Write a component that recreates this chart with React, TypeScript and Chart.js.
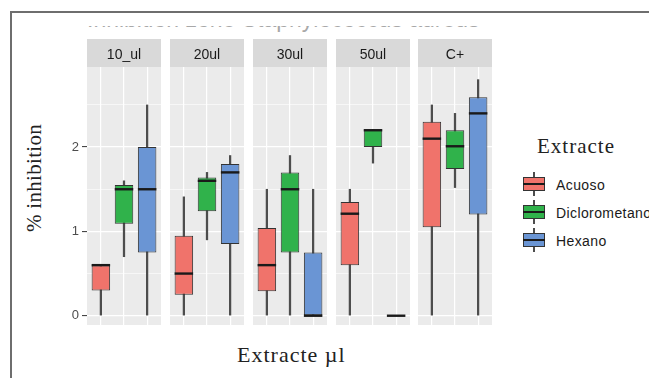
import React, { useEffect, useRef } from "react";
import { Chart, registerables } from "chart.js";

Chart.register(...registerables);

// ---------------- data ----------------
const facets = ["10_ul", "20ul", "30ul", "50ul", "C+"];
const extractes = ["Acuoso", "Diclorometano", "Hexano"];
const extractePositions = [1, 2, 3];
const colors = ["#f0736b", "#30b24b", "#6a95d4"];

// each row: [min, q1, median, q3, max] for facets 10_ul, 20ul, 30ul, 50ul, C+
const acuoso = [
  [0, 0.3, 0.6, 0.6, 0.6],
  [0, 0.25, 0.5, 0.95, 1.41],
  [0, 0.29, 0.6, 1.04, 1.5],
  [0, 0.6, 1.21, 1.35, 1.5],
  [0, 1.05, 2.1, 2.3, 2.5],
];
const diclorometano = [
  [0.7, 1.09, 1.5, 1.55, 1.6],
  [0.9, 1.24, 1.6, 1.64, 1.7],
  [0, 0.75, 1.5, 1.7, 1.9],
  [1.81, 2.0, 2.2, 2.21, 2.21],
  [1.52, 1.74, 2.01, 2.2, 2.4],
];
const hexano = [
  [0, 0.75, 1.5, 2.0, 2.5],
  [0, 0.85, 1.7, 1.8, 1.9],
  [0, 0, 0, 0.75, 1.5],
  [0, 0, 0, 0, 0],
  [0, 1.2, 2.4, 2.59, 2.8],
];

const yTickValues = [0, 1, 2];
const yTickLabels = ["0", "1", "2"];
const yGridValues = [0, 0.5, 1, 1.5, 2, 2.5];
const yMin = -0.11;
const yMax = 2.95;
const xMin = 0.4;
const xMax = 3.6;

// ---------------- layout ----------------
const PANEL_LEFTS = [87, 170, 253, 336, 418];
const PANEL_W = 74;
const STRIP_TOP = 39;
const STRIP_H = 28;
const PANEL_BOTTOM = 325;
const Y_AXIS_W = 30;
const SANS = '"Liberation Sans", Arial, sans-serif';
const SERIF = '"Liberation Serif", "Times New Roman", serif';

const series = [acuoso, diclorometano, hexano];

function FacetChart({ fi }: { fi: number }) {
  const ref = useRef<HTMLCanvasElement>(null);
  const isFirst = fi === 0;
  const axisW = isFirst ? Y_AXIS_W : 0;
  const width = PANEL_W + axisW;
  const height = PANEL_BOTTOM - STRIP_TOP;

  useEffect(() => {
    const canvas = ref.current;
    if (!canvas) return;

    const boxDatasets: any[] = extractes.map((name, k) => ({
      label: name,
      data: [{ x: extractePositions[k], y: [series[k][fi][1], series[k][fi][3]] }],
      median: series[k][fi][2],
      backgroundColor: colors[k],
      borderColor: "#333333",
      borderWidth: 1,
      borderSkipped: false,
      barPercentage: 0.8,
      categoryPercentage: 1,
      grouped: false,
      order: 1,
    }));
    const whiskerDatasets: any[] = extractes.map((name, k) => ({
      label: name + " whisker",
      data: [{ x: extractePositions[k], y: [series[k][fi][0], series[k][fi][4]] }],
      backgroundColor: "#4d4d4d",
      borderWidth: 0,
      barThickness: 1.6,
      grouped: false,
      order: 2,
    }));

    const panelPlugin = {
      id: "panelBg",
      beforeDraw(chart: any) {
        const { ctx, chartArea } = chart;
        const { left, right, top, bottom } = chartArea;
        ctx.save();
        ctx.fillStyle = "#ebebeb";
        ctx.fillRect(left, top, right - left, bottom - top);
        ctx.fillStyle = "#d9d9d9";
        ctx.fillRect(left, top - STRIP_H, right - left, STRIP_H);
        ctx.fillStyle = "#1a1a1a";
        ctx.font = "14px " + SANS;
        ctx.textAlign = "center";
        ctx.textBaseline = "middle";
        ctx.fillText(facets[fi], (left + right) / 2, top - STRIP_H / 2 + 2);
        ctx.restore();
      },
    };

    const medianPlugin = {
      id: "medians",
      afterDatasetsDraw(chart: any) {
        const ctx = chart.ctx;
        const yScale = chart.scales.y;
        chart.data.datasets.forEach((ds: any, i: number) => {
          if (ds.median === undefined) return;
          const el: any = chart.getDatasetMeta(i).data[0];
          if (!el) return;
          const py = yScale.getPixelForValue(ds.median);
          ctx.save();
          ctx.strokeStyle = "#1a1a1a";
          ctx.lineWidth = 2.4;
          ctx.beginPath();
          ctx.moveTo(el.x - el.width / 2, py);
          ctx.lineTo(el.x + el.width / 2, py);
          ctx.stroke();
          ctx.restore();
        });
      },
    };

    const chart = new Chart(canvas, {
      type: "bar",
      data: { datasets: [...boxDatasets, ...whiskerDatasets] },
      options: {
        animation: false,
        responsive: false,
        devicePixelRatio: 1,
        layout: { padding: { top: STRIP_H, left: 0, right: 0, bottom: 0 } },
        plugins: {
          legend: { display: false },
          tooltip: { enabled: false },
          title: { display: false },
        },
        scales: {
          x: {
            type: "linear",
            min: xMin,
            max: xMax,
            offset: false,
            afterBuildTicks: (s: any) => {
              s.ticks = extractePositions.map((v) => ({ value: v }));
            },
            afterFit: (s: any) => {
              s.height = 0;
              s.paddingLeft = 0;
              s.paddingRight = 0;
            },
            ticks: { display: false },
            grid: { color: "#ffffff", lineWidth: 1.2, drawTicks: false, offset: false },
            border: { display: false },
          },
          y: {
            type: "linear",
            min: yMin,
            max: yMax,
            afterBuildTicks: (s: any) => {
              s.ticks = yGridValues.map((v) => ({ value: v }));
            },
            afterFit: (s: any) => {
              s.width = axisW;
              s.paddingTop = 0;
              s.paddingBottom = 0;
            },
            ticks: {
              display: isFirst,
              padding: 3,
              color: "#4d4d4d",
              font: { family: SANS, size: 13 },
              callback: (v: any) => {
                const idx = yTickValues.indexOf(Number(v));
                return idx >= 0 ? yTickLabels[idx] : "";
              },
            },
            grid: {
              color: "#ffffff",
              lineWidth: (c: any) => (c.tick && Number.isInteger(c.tick.value) ? 1.2 : 0.6),
              drawTicks: isFirst,
              tickLength: 5,
              tickWidth: 1,
              tickColor: (c: any) =>
                c.tick && Number.isInteger(c.tick.value) ? "#333333" : "rgba(0,0,0,0)",
            },
            border: { display: false },
          },
        },
      } as any,
      plugins: [panelPlugin, medianPlugin],
    });
    return () => chart.destroy();
  }, [fi]);

  return (
    <canvas
      ref={ref}
      width={width}
      height={height}
      style={{
        position: "absolute",
        left: PANEL_LEFTS[fi] - axisW,
        top: STRIP_TOP,
        width,
        height,
        display: "block",
      }}
    />
  );
}

const LEGEND_KEY_CENTERS = [184, 212, 239.5];

export default function App() {
  return (
    <div
      style={{
        position: "absolute",
        left: 0,
        top: 0,
        width: 649,
        height: 378,
        background: "#ffffff",
        overflow: "hidden",
      }}
    >
      {/* frame */}
      <div style={{ position: "absolute", left: 10, top: 11, width: 2, height: 367, background: "#6e6e6e" }} />
      <div style={{ position: "absolute", left: 10, top: 11, width: 639, height: 2, background: "#6e6e6e" }} />

      {/* clipped title remnant (only the bottom of the glyphs shows) */}
      <div style={{ position: "absolute", left: 80, top: 26, width: 420, height: 7, overflow: "hidden" }}>
        <div
          style={{
            position: "absolute",
            left: 7,
            top: -18.5,
            height: 22,
            whiteSpace: "nowrap",
            fontFamily: SANS,
            fontSize: 23,
            lineHeight: "22px",
            color: "#a8a8a8",
          }}
        >
          Inhibition zone Staphylococcus aureus
        </div>
      </div>

      {facets.map((f, i) => (
        <FacetChart key={f} fi={i} />
      ))}

      {/* y axis title */}
      <div
        style={{
          position: "absolute",
          left: 34,
          top: 178,
          transform: "translate(-50%, -50%) rotate(-90deg)",
          whiteSpace: "nowrap",
          fontFamily: SERIF,
          fontSize: 21,
          lineHeight: "21px",
          color: "#222222",
          letterSpacing: 0.3,
        }}
      >
        % inhibition
      </div>

      {/* x axis title */}
      <div
        style={{
          position: "absolute",
          left: 237,
          top: 344,
          whiteSpace: "nowrap",
          fontFamily: SERIF,
          fontSize: 22,
          lineHeight: "22px",
          color: "#222222",
          letterSpacing: 1,
        }}
      >
        Extracte µl
      </div>

      {/* legend */}
      <div
        style={{
          position: "absolute",
          left: 537,
          top: 136,
          whiteSpace: "nowrap",
          fontFamily: SERIF,
          fontSize: 21,
          lineHeight: "21px",
          color: "#222222",
          letterSpacing: 1,
        }}
      >
        Extracte
      </div>
      {extractes.map((name, k) => {
        const c = LEGEND_KEY_CENTERS[k];
        return (
          <React.Fragment key={name}>
            <div style={{ position: "absolute", left: 523, top: c - 12, width: 22, height: 24 }}>
              <div style={{ position: "absolute", left: 10.2, top: 0, width: 1.6, height: 24, background: "#4d4d4d" }} />
              <div
                style={{
                  position: "absolute",
                  left: 0,
                  top: 5,
                  width: 22,
                  height: 14,
                  boxSizing: "border-box",
                  border: "1px solid #333333",
                  background: colors[k],
                }}
              />
              <div style={{ position: "absolute", left: 0, top: 11, width: 22, height: 2, background: "#1a1a1a" }} />
            </div>
            <div
              style={{
                position: "absolute",
                left: 556,
                top: c - 7,
                whiteSpace: "nowrap",
                fontFamily: SANS,
                fontSize: 14,
                lineHeight: "16px",
                color: "#1a1a1a",
                letterSpacing: 0.4,
              }}
            >
              {name}
            </div>
          </React.Fragment>
        );
      })}
    </div>
  );
}
